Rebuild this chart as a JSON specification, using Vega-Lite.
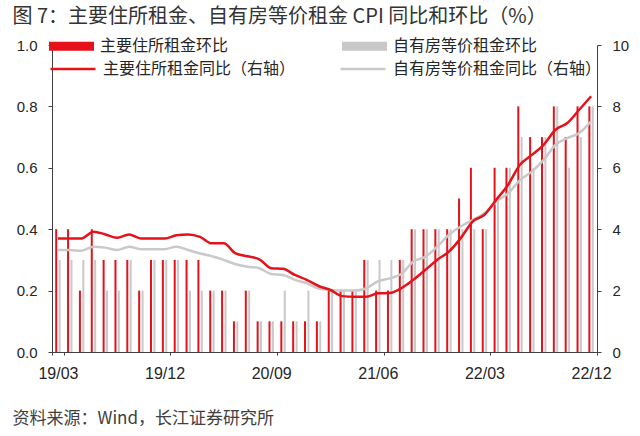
{
  "$schema": "https://vega.github.io/schema/vega-lite/v6.json",
  "width": 545,
  "height": 307,
  "autosize": {"type": "none"},
  "padding": {"left": 52, "top": 45, "right": 43, "bottom": 84},
  "background": "white",
  "config": {
    "view": {"stroke": null},
    "axis": {"grid": false, "labelFont": "Liberation Sans", "labelColor": "#262626", "domainColor": "#404040", "tickColor": "#404040", "titleFont": "Noto Sans CJK SC", "titleFontWeight": "normal"},
    "legend": {"labelFont": "Noto Sans CJK SC", "labelFontSize": 16, "labelColor": "#262626", "padding": 0, "labelLimit": 400}
  },
  "datasets": {
    "rows": [
      {"m":"19/03","s":"主要住所租金环比","v":0.4},{"m":"19/04","s":"主要住所租金环比","v":0.4},{"m":"19/05","s":"主要住所租金环比","v":0.2},{"m":"19/06","s":"主要住所租金环比","v":0.4},{"m":"19/07","s":"主要住所租金环比","v":0.3},{"m":"19/08","s":"主要住所租金环比","v":0.3},{"m":"19/09","s":"主要住所租金环比","v":0.3},{"m":"19/10","s":"主要住所租金环比","v":0.2},{"m":"19/11","s":"主要住所租金环比","v":0.3},{"m":"19/12","s":"主要住所租金环比","v":0.3},
      {"m":"20/01","s":"主要住所租金环比","v":0.3},{"m":"20/02","s":"主要住所租金环比","v":0.3},{"m":"20/03","s":"主要住所租金环比","v":0.3},{"m":"20/04","s":"主要住所租金环比","v":0.2},{"m":"20/05","s":"主要住所租金环比","v":0.2},{"m":"20/06","s":"主要住所租金环比","v":0.1},{"m":"20/07","s":"主要住所租金环比","v":0.2},{"m":"20/08","s":"主要住所租金环比","v":0.1},{"m":"20/09","s":"主要住所租金环比","v":0.1},{"m":"20/10","s":"主要住所租金环比","v":0.1},{"m":"20/11","s":"主要住所租金环比","v":0.1},{"m":"20/12","s":"主要住所租金环比","v":0.1},
      {"m":"21/01","s":"主要住所租金环比","v":0.1},{"m":"21/02","s":"主要住所租金环比","v":0.2},{"m":"21/03","s":"主要住所租金环比","v":0.2},{"m":"21/04","s":"主要住所租金环比","v":0.2},{"m":"21/05","s":"主要住所租金环比","v":0.3},{"m":"21/06","s":"主要住所租金环比","v":0.2},{"m":"21/07","s":"主要住所租金环比","v":0.2},{"m":"21/08","s":"主要住所租金环比","v":0.3},{"m":"21/09","s":"主要住所租金环比","v":0.4},{"m":"21/10","s":"主要住所租金环比","v":0.4},{"m":"21/11","s":"主要住所租金环比","v":0.4},{"m":"21/12","s":"主要住所租金环比","v":0.4},
      {"m":"22/01","s":"主要住所租金环比","v":0.5},{"m":"22/02","s":"主要住所租金环比","v":0.6},{"m":"22/03","s":"主要住所租金环比","v":0.4},{"m":"22/04","s":"主要住所租金环比","v":0.6},{"m":"22/05","s":"主要住所租金环比","v":0.6},{"m":"22/06","s":"主要住所租金环比","v":0.8},{"m":"22/07","s":"主要住所租金环比","v":0.7},{"m":"22/08","s":"主要住所租金环比","v":0.7},{"m":"22/09","s":"主要住所租金环比","v":0.8},{"m":"22/10","s":"主要住所租金环比","v":0.7},{"m":"22/11","s":"主要住所租金环比","v":0.8},{"m":"22/12","s":"主要住所租金环比","v":0.8},

      {"m":"19/03","s":"自有房等价租金环比","v":0.3},{"m":"19/04","s":"自有房等价租金环比","v":0.3},{"m":"19/05","s":"自有房等价租金环比","v":0.3},{"m":"19/06","s":"自有房等价租金环比","v":0.3},{"m":"19/07","s":"自有房等价租金环比","v":0.2},{"m":"19/08","s":"自有房等价租金环比","v":0.2},{"m":"19/09","s":"自有房等价租金环比","v":0.3},{"m":"19/10","s":"自有房等价租金环比","v":0.2},{"m":"19/11","s":"自有房等价租金环比","v":0.3},{"m":"19/12","s":"自有房等价租金环比","v":0.3},
      {"m":"20/01","s":"自有房等价租金环比","v":0.3},{"m":"20/02","s":"自有房等价租金环比","v":0.2},{"m":"20/03","s":"自有房等价租金环比","v":0.2},{"m":"20/04","s":"自有房等价租金环比","v":0.2},{"m":"20/05","s":"自有房等价租金环比","v":0.2},{"m":"20/06","s":"自有房等价租金环比","v":0.1},{"m":"20/07","s":"自有房等价租金环比","v":0.2},{"m":"20/08","s":"自有房等价租金环比","v":0.1},{"m":"20/09","s":"自有房等价租金环比","v":0.1},{"m":"20/10","s":"自有房等价租金环比","v":0.2},{"m":"20/11","s":"自有房等价租金环比","v":0.1},{"m":"20/12","s":"自有房等价租金环比","v":0.2},
      {"m":"21/01","s":"自有房等价租金环比","v":0.1},{"m":"21/02","s":"自有房等价租金环比","v":0.2},{"m":"21/03","s":"自有房等价租金环比","v":0.2},{"m":"21/04","s":"自有房等价租金环比","v":0.2},{"m":"21/05","s":"自有房等价租金环比","v":0.3},{"m":"21/06","s":"自有房等价租金环比","v":0.3},{"m":"21/07","s":"自有房等价租金环比","v":0.3},{"m":"21/08","s":"自有房等价租金环比","v":0.3},{"m":"21/09","s":"自有房等价租金环比","v":0.4},{"m":"21/10","s":"自有房等价租金环比","v":0.4},{"m":"21/11","s":"自有房等价租金环比","v":0.4},{"m":"21/12","s":"自有房等价租金环比","v":0.4},
      {"m":"22/01","s":"自有房等价租金环比","v":0.4},{"m":"22/02","s":"自有房等价租金环比","v":0.4},{"m":"22/03","s":"自有房等价租金环比","v":0.4},{"m":"22/04","s":"自有房等价租金环比","v":0.5},{"m":"22/05","s":"自有房等价租金环比","v":0.6},{"m":"22/06","s":"自有房等价租金环比","v":0.7},{"m":"22/07","s":"自有房等价租金环比","v":0.6},{"m":"22/08","s":"自有房等价租金环比","v":0.7},{"m":"22/09","s":"自有房等价租金环比","v":0.8},{"m":"22/10","s":"自有房等价租金环比","v":0.6},{"m":"22/11","s":"自有房等价租金环比","v":0.7},{"m":"22/12","s":"自有房等价租金环比","v":0.8},

      {"m":"19/03","s":"主要住所租金同比（右轴）","v":3.7},{"m":"19/04","s":"主要住所租金同比（右轴）","v":3.7},{"m":"19/05","s":"主要住所租金同比（右轴）","v":3.7},{"m":"19/06","s":"主要住所租金同比（右轴）","v":3.92},{"m":"19/07","s":"主要住所租金同比（右轴）","v":3.83},{"m":"19/08","s":"主要住所租金同比（右轴）","v":3.72},{"m":"19/09","s":"主要住所租金同比（右轴）","v":3.83},{"m":"19/10","s":"主要住所租金同比（右轴）","v":3.7},{"m":"19/11","s":"主要住所租金同比（右轴）","v":3.7},{"m":"19/12","s":"主要住所租金同比（右轴）","v":3.7},
      {"m":"20/01","s":"主要住所租金同比（右轴）","v":3.8},{"m":"20/02","s":"主要住所租金同比（右轴）","v":3.83},{"m":"20/03","s":"主要住所租金同比（右轴）","v":3.75},{"m":"20/04","s":"主要住所租金同比（右轴）","v":3.54},{"m":"20/05","s":"主要住所租金同比（右轴）","v":3.54},{"m":"20/06","s":"主要住所租金同比（右轴）","v":3.21},{"m":"20/07","s":"主要住所租金同比（右轴）","v":3.12},{"m":"20/08","s":"主要住所租金同比（右轴）","v":3.02},{"m":"20/09","s":"主要住所租金同比（右轴）","v":2.73},{"m":"20/10","s":"主要住所租金同比（右轴）","v":2.71},{"m":"20/11","s":"主要住所租金同比（右轴）","v":2.51},{"m":"20/12","s":"主要住所租金同比（右轴）","v":2.35},
      {"m":"21/01","s":"主要住所租金同比（右轴）","v":2.15},{"m":"21/02","s":"主要住所租金同比（右轴）","v":2.02},{"m":"21/03","s":"主要住所租金同比（右轴）","v":1.82},{"m":"21/04","s":"主要住所租金同比（右轴）","v":1.8},{"m":"21/05","s":"主要住所租金同比（右轴）","v":1.8},{"m":"21/06","s":"主要住所租金同比（右轴）","v":1.91},{"m":"21/07","s":"主要住所租金同比（右轴）","v":1.92},{"m":"21/08","s":"主要住所租金同比（右轴）","v":2.08},{"m":"21/09","s":"主要住所租金同比（右轴）","v":2.35},{"m":"21/10","s":"主要住所租金同比（右轴）","v":2.67},{"m":"21/11","s":"主要住所租金同比（右轴）","v":3.0},{"m":"21/12","s":"主要住所租金同比（右轴）","v":3.27},
      {"m":"22/01","s":"主要住所租金同比（右轴）","v":3.71},{"m":"22/02","s":"主要住所租金同比（右轴）","v":4.25},{"m":"22/03","s":"主要住所租金同比（右轴）","v":4.47},{"m":"22/04","s":"主要住所租金同比（右轴）","v":4.96},{"m":"22/05","s":"主要住所租金同比（右轴）","v":5.45},{"m":"22/06","s":"主要住所租金同比（右轴）","v":6.1},{"m":"22/07","s":"主要住所租金同比（右轴）","v":6.42},{"m":"22/08","s":"主要住所租金同比（右轴）","v":6.75},{"m":"22/09","s":"主要住所租金同比（右轴）","v":7.24},{"m":"22/10","s":"主要住所租金同比（右轴）","v":7.46},{"m":"22/11","s":"主要住所租金同比（右轴）","v":7.89},{"m":"22/12","s":"主要住所租金同比（右轴）","v":8.33},

      {"m":"19/03","s":"自有房等价租金同比（右轴）","v":3.32},{"m":"19/04","s":"自有房等价租金同比（右轴）","v":3.32},{"m":"19/05","s":"自有房等价租金同比（右轴）","v":3.3},{"m":"19/06","s":"自有房等价租金同比（右轴）","v":3.43},{"m":"19/07","s":"自有房等价租金同比（右轴）","v":3.4},{"m":"19/08","s":"自有房等价租金同比（右轴）","v":3.32},{"m":"19/09","s":"自有房等价租金同比（右轴）","v":3.43},{"m":"19/10","s":"自有房等价租金同比（右轴）","v":3.35},{"m":"19/11","s":"自有房等价租金同比（右轴）","v":3.35},{"m":"19/12","s":"自有房等价租金同比（右轴）","v":3.35},
      {"m":"20/01","s":"自有房等价租金同比（右轴）","v":3.43},{"m":"20/02","s":"自有房等价租金同比（右轴）","v":3.32},{"m":"20/03","s":"自有房等价租金同比（右轴）","v":3.21},{"m":"20/04","s":"自有房等价租金同比（右轴）","v":3.12},{"m":"20/05","s":"自有房等价租金同比（右轴）","v":3.0},{"m":"20/06","s":"自有房等价租金同比（右轴）","v":2.86},{"m":"20/07","s":"自有房等价租金同比（右轴）","v":2.78},{"m":"20/08","s":"自有房等价租金同比（右轴）","v":2.73},{"m":"20/09","s":"自有房等价租金同比（右轴）","v":2.54},{"m":"20/10","s":"自有房等价租金同比（右轴）","v":2.51},{"m":"20/11","s":"自有房等价租金同比（右轴）","v":2.35},{"m":"20/12","s":"自有房等价租金同比（右轴）","v":2.24},
      {"m":"21/01","s":"自有房等价租金同比（右轴）","v":2.07},{"m":"21/02","s":"自有房等价租金同比（右轴）","v":2.02},{"m":"21/03","s":"自有房等价租金同比（右轴）","v":2.0},{"m":"21/04","s":"自有房等价租金同比（右轴）","v":2.0},{"m":"21/05","s":"自有房等价租金同比（右轴）","v":2.07},{"m":"21/06","s":"自有房等价租金同比（右轴）","v":2.3},{"m":"21/07","s":"自有房等价租金同比（右轴）","v":2.4},{"m":"21/08","s":"自有房等价租金同比（右轴）","v":2.55},{"m":"21/09","s":"自有房等价租金同比（右轴）","v":2.95},{"m":"21/10","s":"自有房等价租金同比（右轴）","v":3.1},{"m":"21/11","s":"自有房等价租金同比（右轴）","v":3.43},{"m":"21/12","s":"自有房等价租金同比（右轴）","v":3.82},
      {"m":"22/01","s":"自有房等价租金同比（右轴）","v":4.09},{"m":"22/02","s":"自有房等价租金同比（右轴）","v":4.3},{"m":"22/03","s":"自有房等价租金同比（右轴）","v":4.52},{"m":"22/04","s":"自有房等价租金同比（右轴）","v":4.9},{"m":"22/05","s":"自有房等价租金同比（右轴）","v":5.17},{"m":"22/06","s":"自有房等价租金同比（右轴）","v":5.6},{"m":"22/07","s":"自有房等价租金同比（右轴）","v":5.88},{"m":"22/08","s":"自有房等价租金同比（右轴）","v":6.26},{"m":"22/09","s":"自有房等价租金同比（右轴）","v":6.75},{"m":"22/10","s":"自有房等价租金同比（右轴）","v":6.97},{"m":"22/11","s":"自有房等价租金同比（右轴）","v":7.13},{"m":"22/12","s":"自有房等价租金同比（右轴）","v":7.51}
    ]
  },
  "data": {"name": "rows"},
  "layer": [
    {
      "transform": [{"filter": "datum.s === '主要住所租金环比' || datum.s === '自有房等价租金环比'"}],
      "mark": {"type": "bar"},
      "encoding": {
        "x": {
          "field": "m", "type": "ordinal", "sort": null,
          "scale": {"paddingInner": 0, "paddingOuter": 0},
          "axis": {"orient": "bottom", "values": ["19/03","19/12","20/09","21/06","22/03","22/12"], "labelAngle": 0, "labelFontSize": 16, "tickBand": "extent", "tickSize": 3, "labelPadding": 10, "title": null}
        },
        "xOffset": {"field": "s", "type": "nominal", "scale": {"domain": ["主要住所租金环比","自有房等价租金环比"], "paddingInner": 0.412, "paddingOuter": 0.946}},
        "y": {
          "field": "v", "type": "quantitative",
          "scale": {"domain": [0, 1], "nice": false},
          "axis": {"orient": "left", "values": [0, 0.2, 0.4, 0.6, 0.8, 1], "format": ".1f", "tickSize": 4, "labelPadding": 11, "labelFontSize": 15, "title": null}
        },
        "fill": {
          "field": "s", "type": "nominal",
          "scale": {"domain": ["主要住所租金环比","自有房等价租金环比"], "range": ["#E3121B","#C9C9C9"]},
          "legend": {
            "title": null, "orient": "none", "legendX": -3, "legendY": -21.5,
            "direction": "horizontal", "columnPadding": 113,
            "symbolType": "M-1,-0.2H1V0.2H-1Z", "symbolSize": 2025, "symbolStrokeWidth": 0, "labelOffset": 6
          }
        }
      }
    },
    {
      "transform": [{"filter": "datum.s === '自有房等价租金同比（右轴）'"}],
      "mark": {"type": "line", "strokeWidth": 2.5, "interpolate": "monotone"},
      "encoding": {
        "x": {
          "field": "m", "type": "ordinal", "sort": null,
          "axis": {
            "orient": "bottom", "offset": 41, "labels": false, "ticks": false, "domain": false,
            "title": "资料来源：Wind，长江证券研究所", "titleX": -40, "titleY": 25.5,
            "titleAlign": "left", "titleBaseline": "middle", "titleAngle": 0,
            "titleFontSize": 17, "titleColor": "#404040"
          }
        },
        "y": {"field": "v", "type": "quantitative", "scale": {"domain": [0, 10], "nice": false}, "axis": null},
        "stroke": {
          "field": "s", "type": "nominal",
          "scale": {"domain": ["主要住所租金同比（右轴）","自有房等价租金同比（右轴）"], "range": ["#E3121B","#C9C9C9"]},
          "legend": {
            "title": null, "orient": "none", "legendX": -3, "legendY": 0,
            "direction": "horizontal", "columnPadding": 39,
            "symbolType": "M-1,0H1", "symbolSize": 2025, "symbolStrokeWidth": 2.5, "labelOffset": 6
          }
        }
      }
    },
    {
      "transform": [{"filter": "datum.s === '主要住所租金同比（右轴）'"}],
      "mark": {"type": "line", "strokeWidth": 2.5, "interpolate": "monotone"},
      "encoding": {
        "x": {
          "field": "m", "type": "ordinal", "sort": null,
          "axis": {
            "orient": "top", "offset": 15, "labels": false, "ticks": false, "domain": false,
            "title": "图 7：主要住所租金、自有房等价租金 CPI 同比和环比（%）", "titleX": -40, "titleY": -13.5,
            "titleAlign": "left", "titleBaseline": "middle", "titleAngle": 0,
            "titleFontSize": 20, "titleColor": "#333333"
          }
        },
        "y": {
          "field": "v", "type": "quantitative", "scale": {"domain": [0, 10], "nice": false},
          "axis": {"orient": "right", "values": [0, 2, 4, 6, 8, 10], "format": "d", "tickSize": 4, "labelPadding": 11, "labelFontSize": 15, "title": null}
        },
        "stroke": {
          "field": "s", "type": "nominal",
          "scale": {"domain": ["主要住所租金同比（右轴）","自有房等价租金同比（右轴）"], "range": ["#E3121B","#C9C9C9"]}
        }
      }
    }
  ],
  "resolve": {"scale": {"y": "independent"}, "axis": {"x": "independent"}}
}
